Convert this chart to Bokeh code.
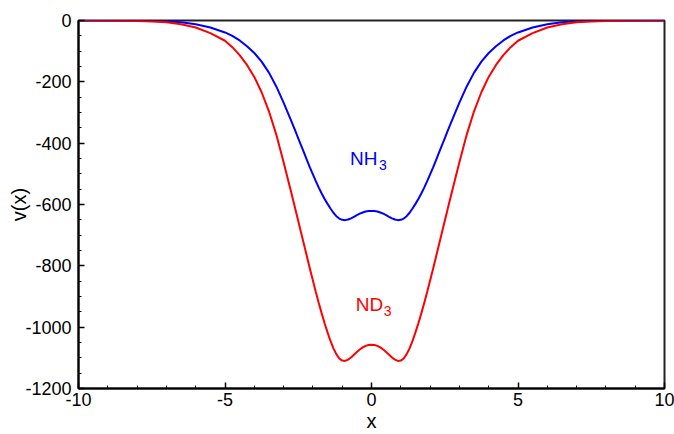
from bokeh.plotting import figure
from bokeh.models import Range1d, FixedTicker, CustomJSTickFormatter
from bokeh.core.properties import value
from bokeh.embed import file_html
from bokeh.resources import INLINE

# Data
x_vals = [-10, -9, -8, -7.5, -7, -6.5, -6, -5.5, -5, -4.75, -4.5, -4.25, -4, -3.75, -3.5, -3.25, -3, -2.75,
          -2.6, -2.5, -2.4, -2.3, -2.2, -2.1, -2, -1.9, -1.8, -1.7, -1.6, -1.5, -1.4, -1.3, -1.2, -1.1,
          -1, -0.9, -0.8, -0.7, -0.6, -0.5, -0.4, -0.3, -0.2, -0.1,
          0,
          0.1, 0.2, 0.3, 0.4, 0.5, 0.6, 0.7, 0.8, 0.9, 1,
          1.1, 1.2, 1.3, 1.4, 1.5, 1.6, 1.7, 1.8, 1.9, 2, 2.1, 2.2, 2.3, 2.4, 2.5, 2.6,
          2.75, 3, 3.25, 3.5, 3.75, 4, 4.25, 4.5, 4.75, 5, 5.5, 6, 6.5, 7, 7.5, 8, 9, 10]
nh3_vals = [0, 0, -0.5, -1.2, -2.5, -5.5, -12, -23, -39, -50, -65, -84, -106, -134, -170, -215, -268, -325,
            -360, -384, -408, -432, -456, -480, -502, -524, -545, -564, -582, -598, -613, -627, -638, -646,
            -650, -651, -649, -645, -640, -635, -630, -626, -623, -621.5,
            -621,
            -621.5, -623, -626, -630, -635, -640, -645, -649, -651, -650,
            -646, -638, -627, -613, -598, -582, -564, -545, -524, -502, -480, -456, -432, -408, -384, -360,
            -325, -268, -215, -170, -134, -106, -84, -65, -50, -39, -23, -12, -5.5, -2.5, -1.2, -0.5, 0, 0]
nd3_vals = [0, -0.5, -1.5, -3, -6, -12, -23, -41, -66, -87, -113, -145, -184, -234, -296, -372, -462, -557,
            -615, -654, -693, -732, -771, -810, -848, -885, -921, -955, -987, -1017, -1045, -1069, -1088, -1102,
            -1109, -1110, -1106, -1099, -1090, -1081, -1073, -1066, -1061, -1058,
            -1057,
            -1058, -1061, -1066, -1073, -1081, -1090, -1099, -1106, -1110, -1109,
            -1102, -1088, -1069, -1045, -1017, -987, -955, -921, -885, -848, -810, -771, -732, -693, -654, -615,
            -557, -462, -372, -296, -234, -184, -145, -113, -87, -66, -41, -23, -12, -6, -3, -1.5, -0.5, 0]
x_major = [-10, -5, 0, 5, 10]
y_major = [-1200, -1000, -800, -600, -400, -200, 0]
labels = ["NH", "ND"]
label_colors = ["#0000FF", "#FF0000"]

FONT = "Liberation Sans"

p = figure(width=674, height=434, output_backend="svg", toolbar_location=None,
           x_range=Range1d(-10, 10), y_range=Range1d(-1200, 0),
           min_border_left=78, min_border_right=10, min_border_top=20, min_border_bottom=46)
p.grid.visible = False
p.background_fill_color = "white"
p.border_fill_color = "white"
p.outline_line_color = "#222222"
p.outline_line_width = 2

p.line(x_vals, nh3_vals, line_color=label_colors[0], line_width=2)
p.line(x_vals, nd3_vals, line_color=label_colors[1], line_width=2)

# labels with subscripts
p.text(x=[-0.73], y=[-450], text=[labels[0]], text_color=label_colors[0],
       text_font=value(FONT), text_font_size="19px", text_baseline="alphabetic", text_align="left")
p.text(x=[-0.73], y=[-450], text=["3"], text_color=label_colors[0], x_offset=29, y_offset=6,
       text_font=value(FONT), text_font_size="14px", text_baseline="alphabetic", text_align="left")
p.text(x=[-0.54], y=[-927], text=[labels[1]], text_color=label_colors[1],
       text_font=value(FONT), text_font_size="19px", text_baseline="alphabetic", text_align="left")
p.text(x=[-0.54], y=[-927], text=["3"], text_color=label_colors[1], x_offset=28, y_offset=6,
       text_font=value(FONT), text_font_size="14px", text_baseline="alphabetic", text_align="left")

fmt = CustomJSTickFormatter(code="return tick.toString();")
for ax in (p.xaxis[0], p.yaxis[0]):
    ax.formatter = fmt
    ax.axis_line_color = "black"
    ax.axis_line_width = 2
    ax.major_tick_in = 6
    ax.major_tick_out = 0
    ax.minor_tick_in = 3
    ax.minor_tick_out = 0
    ax.major_tick_line_color = "black"
    ax.minor_tick_line_color = "black"
    ax.major_tick_line_width = 1.5
    ax.major_label_text_font = FONT
    ax.major_label_text_font_size = "18px"
    ax.major_label_text_color = "black"
    ax.axis_label_text_font = FONT
    ax.axis_label_text_font_size = "20px"
    ax.axis_label_text_font_style = "normal"
    ax.axis_label_text_color = "black"

p.xaxis[0].ticker = FixedTicker(ticks=x_major, minor_ticks=list(range(-10, 11)))
p.yaxis[0].ticker = FixedTicker(ticks=y_major, minor_ticks=list(range(-1200, 1, 50)))
p.xaxis[0].axis_label = "x"
p.yaxis[0].axis_label = "v(x)"
p.xaxis[0].major_label_standoff = 4
p.xaxis[0].axis_label_standoff = 1
p.yaxis[0].major_label_standoff = 7
p.yaxis[0].axis_label_standoff = -8

open("out.html", "w").write(file_html(p, INLINE))
